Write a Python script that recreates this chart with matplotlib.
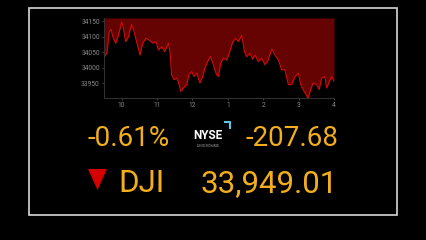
import matplotlib
matplotlib.use("Agg")
import matplotlib.pyplot as plt
from matplotlib.patches import Polygon, Rectangle

# intraday DJI, hours (9.5 = 9:30 am, 16 = 4 pm)
hours = [9.51, 9.58, 9.65, 9.70, 9.76, 9.83, 9.91, 9.97, 10.00, 10.05, 10.11, 10.19,
         10.28, 10.35, 10.42, 10.52, 10.59, 10.69, 10.80, 10.88, 10.97, 11.04, 11.13,
         11.22, 11.32, 11.37, 11.41, 11.48, 11.55, 11.60, 11.67, 11.74, 11.84, 11.90,
         11.98, 12.04, 12.12, 12.21, 12.29, 12.35, 12.45, 12.51, 12.59, 12.68, 12.73,
         12.80, 12.87, 12.97, 13.04, 13.14, 13.22, 13.30, 13.39, 13.47, 13.53, 13.63,
         13.70, 13.77, 13.86, 13.95, 14.05, 14.14, 14.24, 14.33, 14.43, 14.52, 14.61,
         14.71, 14.80, 14.90, 14.99, 15.06, 15.13, 15.23, 15.27, 15.34, 15.41, 15.51,
         15.58, 15.65, 15.74, 15.79, 15.87, 15.93, 16.00]
values = [34036, 34047, 34116, 34123, 34095, 34079, 34105, 34132, 34148, 34127, 34084,
          34100, 34140, 34116, 34084, 34041, 34079, 34095, 34087, 34079, 34084, 34057,
          34068, 34052, 34079, 34047, 33978, 33962, 33967, 33956, 33924, 33935, 33946,
          33978, 33988, 33972, 33983, 33951, 33972, 33999, 34025, 34036, 34010, 33978,
          33972, 34015, 34031, 34025, 34047, 34084, 34095, 34084, 34105, 34052, 34036,
          34047, 34028, 34041, 34020, 34031, 34010, 34025, 34060, 34041, 34025, 33994,
          33994, 33946, 33946, 33972, 33983, 33946, 33930, 33909, 33903, 33930, 33951,
          33946, 33930, 33967, 33972, 33935, 33956, 33972, 33956]

yticks = [33950, 34000, 34050, 34100, 34150]
xticks = [10, 11, 12, 13, 14, 15, 16]
xlabels = ['10', '11', '12', '1', '2', '3', '4']

pct_change = "-0.61%"
pt_change = "-207.68"
symbol = "DJI"
last = "33,949.01"

W, H = 426, 240
orange = '#f2ae1c'
narrow = ['Roboto', 'DejaVu Sans']

fig = plt.figure(figsize=(W / 100, H / 100), dpi=100, facecolor='black')

def fx(px):
    return px / W

def fy(py):
    return 1 - py / H

# outer frame
fig.patches.append(Rectangle((fx(29), fy(215)), fx(397) - fx(29), fy(8) - fy(215),
                             transform=fig.transFigure, fill=False,
                             edgecolor='#d8d8d8', linewidth=1.2))

ax = fig.add_axes([fx(104), fy(98), fx(334) - fx(104), fy(18) - fy(98)])
ax.set_facecolor('black')
ylo, yhi = 33903, 34160
ax.fill_between(hours, values, yhi, color='#650202', linewidth=0)
ax.plot(hours, values, color='#d00c0c', linewidth=0.8)
ax.set_xlim(9.5, 16)
ax.set_ylim(ylo, yhi)
ax.set_yticks(yticks)
ax.set_xticks(xticks)
ax.set_xticklabels(xlabels)
ax.tick_params(colors='#5a5a5a', labelcolor='#8a8a8a', labelsize=4.8, length=1.5, width=0.5, pad=1.5)
for lab in ax.get_xticklabels() + ax.get_yticklabels():
    lab.set_family(narrow)
for side in ['top', 'right']:
    ax.spines[side].set_visible(False)
for side in ['left', 'bottom']:
    ax.spines[side].set_color('#3a3a3a')
    ax.spines[side].set_linewidth(0.6)

# quote texts
fig.text(fx(87), fy(146), pct_change, color=orange, fontsize=20, family=narrow,
         ha='left', va='baseline')
fig.text(fx(338), fy(146), pt_change, color=orange, fontsize=20, family=narrow,
         ha='right', va='baseline')
fig.text(fx(118), fy(192), symbol, color=orange, fontsize=22.5, family=narrow,
         ha='left', va='baseline')
fig.text(fx(338), fy(192), last, color=orange, fontsize=22.5, family=narrow,
         ha='right', va='baseline')

# down arrow
fig.patches.append(Polygon([(fx(88), fy(169)), (fx(107), fy(169)), (fx(97.5), fy(190))],
                           closed=True, transform=fig.transFigure,
                           facecolor='#d40000', edgecolor='none'))

# NYSE logo
fig.text(fx(193), fy(139), "NYSE", color='white', fontsize=8.5, family=narrow,
         ha='left', va='baseline', fontweight='bold')
fig.text(fx(208), fy(147), "AN ICE EXCHANGE", color='#bbbbbb', fontsize=1.8,
         family=narrow, ha='center', va='baseline')
fig.lines.append(plt.Line2D([fx(225), fx(230), fx(230)], [fy(122), fy(122), fy(128)],
                            transform=fig.transFigure, color='#5ec8e6', linewidth=1.5))

fig.savefig('out.png', dpi=100, facecolor='black')
